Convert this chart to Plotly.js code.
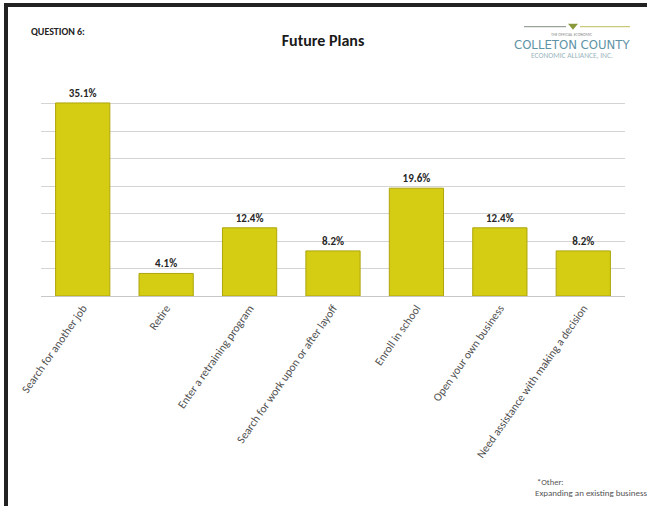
<!DOCTYPE html>
<html>
<head>
<meta charset="utf-8">
<script src="https://cdn.plot.ly/plotly-3.0.1.min.js"></script>
<style>
html,body{margin:0;padding:0;background:#fff;}
#chart{position:absolute;left:0;top:0;width:647px;height:506px;}
#frame{position:absolute;left:4px;top:3px;width:643px;height:503px;border-left:4px solid #222;border-top:4px solid #222;box-sizing:border-box;pointer-events:none;z-index:10;}
</style>
</head>
<body>
<div id="chart"></div>
<div id="frame"></div>
<script>
const categories = [
  "Search for another job",
  "Retire",
  "Enter a retraining program",
  "Search for work upon or after layoff",
  "Enroll in school",
  "Open your own business",
  "Need assistance with making a decision"
];
const percentValues = [35.1, 4.1, 12.4, 8.2, 19.6, 12.4, 8.2];
const footnoteLines = ["*Other:", "Expanding an existing business"];

const W = 647, H = 506;
const M = {l: 41, r: 22, t: 97.5, b: 210};
const pw = W - M.l - M.r, ph = H - M.t - M.b;
const px = x => (x - M.l) / pw;
const py = y => (H - M.b - y) / ph;

const FONT = 'Carlito, "Open Sans", "Liberation Sans", sans-serif';

const trace = {
  type: 'bar',
  x: categories,
  y: percentValues,
  marker: {color: '#d5cd14', line: {color: '#ada50a', width: 1}},
  texttemplate: '<b>%{y:.1f}%</b>',
  textposition: 'outside',
  constraintext: 'none',
  cliponaxis: false,
  textfont: {family: FONT, size: 11, color: '#262626'},
  hoverinfo: 'skip'
};

const layout = {
  width: W, height: H,
  margin: M,
  paper_bgcolor: '#fff',
  plot_bgcolor: '#fff',
  showlegend: false,
  bargap: 0.35,
  title: {
    text: '<b>Future Plans</b>',
    x: 323 / W, xref: 'container', xanchor: 'center',
    y: 1 - 40 / H, yref: 'container', yanchor: 'middle',
    font: {family: FONT, size: 16, color: '#1a1a1a'}
  },
  xaxis: {
    type: 'category',
    tickangle: -55,
    tickfont: {family: FONT, size: 11.5, color: '#505050'},
    showline: true, linecolor: '#c8c8c8', linewidth: 1,
    showgrid: false, ticks: ''
  },
  yaxis: {
    range: [0, 36],
    dtick: 5,
    showticklabels: false,
    showgrid: true, gridcolor: '#d4d4d4', gridwidth: 1,
    zeroline: false, showline: false, ticks: ''
  },
  shapes: [
    {type: 'line', xref: 'paper', yref: 'paper', x0: px(524), x1: px(566), y0: py(26), y1: py(26), line: {color: '#9aa39a', width: 1.2}},
    {type: 'line', xref: 'paper', yref: 'paper', x0: px(580), x1: px(630), y0: py(26), y1: py(26), line: {color: '#c9c97a', width: 1.2}},
    {type: 'path', xref: 'paper', yref: 'paper',
      path: 'M ' + px(568) + ' ' + py(23) + ' L ' + px(578) + ' ' + py(23) + ' L ' + px(573) + ' ' + py(29) + ' Z',
      fillcolor: '#8a9a3a', line: {width: 0}}
  ],
  annotations: [
    {text: '<b>QUESTION 6:</b>', xref: 'paper', yref: 'paper', x: px(29), y: py(31), xanchor: 'left', yanchor: 'middle', showarrow: false, font: {family: FONT, size: 10, color: '#222'}},
    {text: 'COLLETON COUNTY', xref: 'paper', yref: 'paper', x: px(572), y: py(44), xanchor: 'center', yanchor: 'middle', showarrow: false, font: {family: '"Liberation Sans Narrow", "DejaVu Sans Condensed", sans-serif', size: 13, color: '#5e93a6'}},
    {text: 'ECONOMIC ALLIANCE, INC.', xref: 'paper', yref: 'paper', x: px(572), y: py(55), xanchor: 'center', yanchor: 'middle', showarrow: false, font: {family: FONT, size: 7.5, color: '#9ab5bd'}},
    {text: 'THE OFFICIAL ECONOMIC', xref: 'paper', yref: 'paper', x: px(572), y: py(34), xanchor: 'center', yanchor: 'middle', showarrow: false, font: {family: FONT, size: 4, color: '#8a8a8a'}},
    {text: footnoteLines[0], xref: 'paper', yref: 'paper', x: px(535), y: py(482), xanchor: 'left', yanchor: 'middle', showarrow: false, font: {family: FONT, size: 8.5, color: '#555'}},
    {text: footnoteLines[1], xref: 'paper', yref: 'paper', x: px(533), y: py(493), xanchor: 'left', yanchor: 'middle', showarrow: false, font: {family: FONT, size: 9, color: '#555'}}
  ]
};

Plotly.newPlot('chart', [trace], layout, {staticPlot: true, displayModeBar: false});
</script>
</body>
</html>
